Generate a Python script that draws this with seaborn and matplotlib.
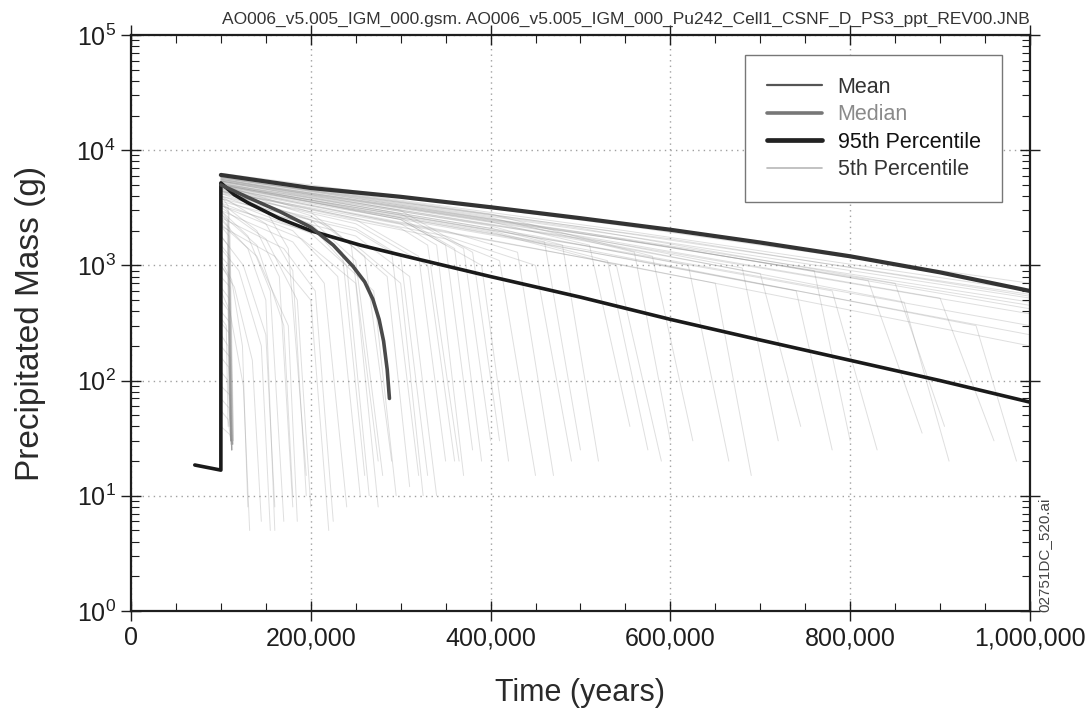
import matplotlib
matplotlib.use("Agg")
import matplotlib.pyplot as plt
from matplotlib.lines import Line2D
from matplotlib.ticker import FuncFormatter, MultipleLocator, LogLocator, NullFormatter
import seaborn as sns
import pandas as pd

# ---- summary statistics (time in thousands of years, mass in grams) ----
mean_t = [71, 100, 100, 115, 130, 165, 200, 255, 300, 400, 500, 600, 700, 800, 900, 1000]
mean_m = [18.5, 16.7, 5200, 4100, 3500, 2560, 2000, 1500, 1230, 800, 530, 340, 225, 150, 100, 65]

median_t = [100, 130, 165, 200, 225, 247, 260, 269, 276, 281, 285, 287.5]
median_m = [5000, 3900, 2950, 2150, 1500, 980, 720, 510, 340, 220, 125, 70]

pct95_t = [100, 200, 300, 400, 500, 600, 700, 800, 900, 1000]
pct95_m = [6100, 4700, 3940, 3200, 2570, 2040, 1580, 1200, 870, 600]

# ---- individual realizations, as (time kyr, mass g) vertices ----
persistent_runs = [
    [(100, 6300), (550, 2200), (1000, 700)],
    [(100, 6000), (550, 2000), (1000, 600)],
    [(100, 5900), (550, 1900), (1000, 560)],
    [(100, 5800), (550, 1800), (1000, 520)],
    [(100, 5600), (550, 1650), (1000, 450)],
    [(100, 5500), (550, 1700), (1000, 480)],
    [(100, 5300), (550, 1500), (1000, 380)],
    [(100, 5000), (550, 1300), (1000, 300)],
    [(100, 4700), (550, 1150), (1000, 250)],
    [(100, 4400), (550, 1000), (1000, 200)],
    [(100, 5700), (600, 1700), (1000, 540)],
    [(100, 5400), (600, 1450), (1000, 420)],
]

late_runs = [
    [(100, 5900), (500, 2100), (850, 700), (905, 40)],
    [(100, 5400), (500, 1800), (900, 520), (960, 30)],
    [(100, 5000), (500, 1500), (780, 600), (830, 25)],
    [(100, 4800), (500, 1400), (940, 300), (985, 20)],
    [(100, 5700), (500, 1950), (820, 740), (880, 35)],
    [(100, 5600), (450, 2100), (680, 950), (720, 30)],
    [(100, 5200), (450, 1800), (620, 1000), (665, 20)],
    [(100, 4900), (450, 1600), (740, 600), (780, 25)],
    [(100, 5400), (450, 1950), (700, 850), (745, 40)],
    [(100, 4600), (450, 1400), (650, 700), (690, 15)],
    [(100, 5100), (500, 1700), (860, 480), (910, 20)],
    [(100, 5800), (450, 2200), (760, 900), (800, 30)],
]

middle_runs = [
    [(100, 5800), (400, 2600), (560, 1300), (600, 30)],
    [(100, 5300), (400, 2200), (480, 1500), (520, 20)],
    [(100, 5000), (400, 2000), (530, 1100), (575, 25)],
    [(100, 4700), (350, 2000), (430, 1300), (470, 15)],
    [(100, 5500), (400, 2400), (510, 1500), (555, 40)],
    [(100, 4400), (350, 1800), (450, 1000), (490, 20)],
    [(100, 6000), (400, 2800), (580, 1200), (625, 30)],
    [(100, 4200), (350, 1700), (410, 1100), (450, 15)],
    [(100, 5100), (400, 2100), (460, 1600), (500, 25)],
    [(100, 4900), (400, 1950), (540, 1000), (590, 20)],
    [(100, 5200), (300, 2600), (360, 1400), (390, 20)],
    [(100, 4800), (300, 2300), (340, 1500), (370, 15)],
    [(100, 5600), (300, 3000), (380, 1300), (410, 30)],
    [(100, 4500), (250, 2500), (320, 1200), (350, 20)],
    [(100, 4000), (250, 2100), (300, 1200), (330, 15)],
    [(100, 5000), (300, 2500), (350, 1500), (380, 25)],
    [(100, 3600), (250, 1800), (310, 800), (340, 10)],
    [(100, 4300), (250, 2300), (330, 1000), (360, 20)],
    [(100, 5400), (300, 2800), (370, 1400), (400, 30)],
    [(100, 3800), (250, 2000), (290, 1300), (320, 15)],
    [(100, 4600), (300, 2100), (330, 1500), (365, 20)],
    [(100, 3300), (250, 1500), (300, 700), (325, 10)],
    [(100, 5100), (300, 2500), (390, 1000), (420, 20)],
]

short_runs = [
    [(100, 4500), (200, 2500), (250, 1100), (280, 15)],
    [(100, 4000), (200, 2200), (240, 1000), (265, 10)],
    [(100, 3500), (180, 2000), (230, 800), (255, 10)],
    [(100, 5000), (200, 2900), (260, 1200), (290, 20)],
    [(100, 3000), (180, 1600), (215, 700), (240, 8)],
    [(100, 4200), (200, 2300), (235, 1300), (260, 15)],
    [(100, 2600), (170, 1400), (205, 600), (225, 6)],
    [(100, 3800), (200, 1900), (270, 600), (295, 10)],
    [(100, 4800), (200, 2700), (245, 1500), (275, 20)],
    [(100, 2200), (160, 1200), (200, 500), (220, 5)],
    [(100, 3300), (190, 1700), (250, 700), (275, 8)],
    [(100, 4400), (220, 2200), (285, 800), (310, 12)],
    [(100, 4000), (150, 2300), (180, 900), (195, 10)],
    [(100, 3500), (140, 2000), (165, 800), (180, 8)],
    [(100, 3000), (130, 1800), (155, 600), (170, 6)],
    [(100, 2500), (130, 1400), (150, 500), (160, 5)],
    [(100, 5000), (150, 3000), (175, 1400), (195, 15)],
    [(100, 2800), (140, 1500), (170, 300), (180, 10)],
    [(100, 1800), (125, 1000), (150, 250), (160, 8)],
    [(100, 3200), (150, 1700), (185, 500), (200, 8)],
    [(100, 2300), (140, 1200), (175, 300), (185, 6)],
    [(100, 1400), (120, 900), (145, 200), (155, 5)],
    [(100, 1000), (115, 650), (135, 150), (145, 6)],
    [(100, 1100), (112, 750), (124, 200), (130, 8)],
    [(100, 600), (110, 400), (125, 90), (132, 5)],
]

early_runs = [
    [(100, 4000), (108, 3300), (112, 30)],
    [(100, 3500), (109, 2900), (113, 25)],
    [(100, 3000), (108, 2500), (111, 28)],
    [(100, 2600), (110, 2100), (114, 30)],
    [(100, 2200), (109, 1800), (112, 25)],
    [(100, 1800), (108, 1500), (111, 30)],
    [(100, 1500), (110, 1200), (113, 28)],
    [(100, 1200), (109, 1000), (112, 25)],
    [(100, 1000), (108, 820), (111, 30)],
    [(100, 800), (110, 650), (114, 28)],
    [(100, 650), (109, 520), (112, 25)],
    [(100, 500), (108, 410), (111, 30)],
    [(100, 400), (110, 320), (113, 28)],
    [(100, 320), (109, 260), (112, 25)],
    [(100, 250), (108, 200), (111, 30)],
    [(100, 200), (110, 160), (113, 28)],
    [(100, 160), (109, 130), (112, 25)],
    [(100, 120), (108, 100), (111, 30)],
    [(100, 90), (110, 75), (113, 28)],
    [(100, 70), (109, 58), (112, 25)],
    [(100, 55), (108, 46), (111, 30)],
    [(100, 40), (110, 34), (113, 28)],
    [(100, 350), (106, 300), (108, 40)],
    [(100, 2800), (107, 2400), (110, 40)],
]

run_groups = [persistent_runs, late_runs, middle_runs, short_runs, early_runs]

rows = []
run_id = 0
for group in run_groups:
    for run in group:
        for t, m in run:
            rows.append({"run": run_id, "t": t * 1000.0, "m": m})
        run_id += 1
runs_df = pd.DataFrame(rows)

def stat_frame(ts, ms):
    return pd.DataFrame({"t": [v * 1000.0 for v in ts], "m": ms})

mean_df = stat_frame(mean_t, mean_m)
median_df = stat_frame(median_t, median_m)
pct95_df = stat_frame(pct95_t, pct95_m)

# ---- styling ----
sns.set_theme(style="white")
plt.rcParams["font.family"] = ["Liberation Sans", "DejaVu Sans"]
plt.rcParams["mathtext.fontset"] = "custom"
plt.rcParams["mathtext.rm"] = "Liberation Sans"
plt.rcParams["mathtext.it"] = "Liberation Sans"

fig = plt.figure(figsize=(10.86, 7.12), dpi=100)
ax = fig.add_axes([0.1206, 0.1419, 0.8278, 0.8089])

ink = "#1e1e1e"
run_color = "#8c8c8c"
mean_color = "#1a1a1a"
median_color = "#4a4a4a"
pct95_color = "#333333"
pct05_color = "#b8b8b8"

sns.lineplot(data=runs_df, x="t", y="m", units="run", estimator=None, sort=False,
             color=run_color, lw=0.7, alpha=0.28, ax=ax, legend=False)
sns.lineplot(data=pct95_df, x="t", y="m", estimator=None, sort=False,
             color=pct95_color, lw=3.0, ax=ax, legend=False)
sns.lineplot(data=mean_df, x="t", y="m", estimator=None, sort=False,
             color=mean_color, lw=2.6, ax=ax, legend=False)
sns.lineplot(data=median_df, x="t", y="m", estimator=None, sort=False,
             color=median_color, lw=2.6, ax=ax, legend=False)

ax.set_yscale("log")
ax.set_xlim(0, 1_000_000)
ax.set_ylim(1, 1e5)

ax.xaxis.set_major_locator(MultipleLocator(200_000))
ax.xaxis.set_minor_locator(MultipleLocator(50_000))
ax.xaxis.set_major_formatter(FuncFormatter(lambda v, p: f"{v:,.0f}"))
ax.yaxis.set_major_locator(LogLocator(base=10, numticks=10))
ax.yaxis.set_minor_locator(LogLocator(base=10, subs=range(2, 10), numticks=20))
ax.yaxis.set_minor_formatter(NullFormatter())

ax.tick_params(which="major", direction="inout", length=14, width=1.0, color=ink,
               bottom=True, left=True, top=True, right=True,
               labelsize=18, labelcolor=ink, pad=4)
ax.tick_params(which="minor", direction="in", length=6, width=0.8, color=ink,
               bottom=True, left=True, top=True, right=True)
ax.tick_params(axis="y", which="major", labelsize=18)

for spine in ax.spines.values():
    spine.set_color(ink)
    spine.set_linewidth(1.6)

ax.grid(True, which="major", color="#a0a0a0", linestyle=(0, (1, 3)), linewidth=1.0)
ax.set_axisbelow(True)

ax.set_xlabel("Time (years)", fontsize=22, color="#2a2a2a", labelpad=20)
ax.set_ylabel("Precipitated Mass (g)", fontsize=24, color="#2a2a2a", labelpad=22)

ax.set_title("AO006_v5.005_IGM_000.gsm. AO006_v5.005_IGM_000_Pu242_Cell1_CSNF_D_PS3_ppt_REV00.JNB",
             loc="right", fontsize=12.5, color="#333333", pad=8)

fig.text(0.9555, 0.140, "02751DC_520.ai", rotation=90, fontsize=11, color="#444444",
         ha="left", va="bottom")

handles = [
    Line2D([], [], color="#555555", lw=1.6),
    Line2D([], [], color="#777777", lw=2.6),
    Line2D([], [], color="#222222", lw=3.4),
    Line2D([], [], color=pct05_color, lw=1.2),
]
labels = ["Mean", "Median", "95th Percentile", "5th Percentile"]
leg = ax.legend(handles, labels, loc="upper right", bbox_to_anchor=(0.969, 0.965),
                fontsize=15.5, frameon=True, fancybox=False, framealpha=1,
                edgecolor="#777777", handlelength=2.6, handletextpad=0.7,
                labelspacing=0.3, borderpad=1.0, borderaxespad=0)
leg.get_frame().set_linewidth(1.0)
for txt, c in zip(leg.get_texts(), ["#333333", "#8a8a8a", "#111111", "#333333"]):
    txt.set_color(c)

fig.savefig("out.png", dpi=100, facecolor="white")
